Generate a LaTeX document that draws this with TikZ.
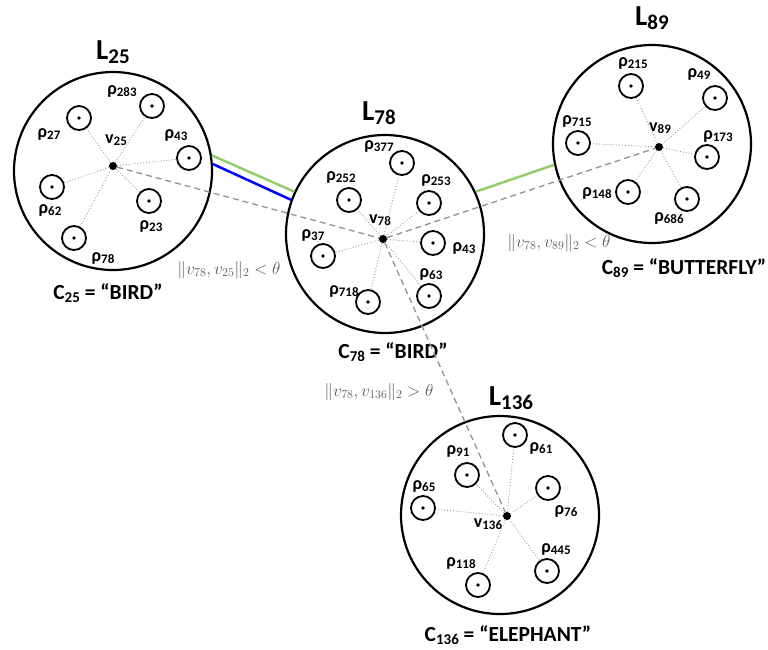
\documentclass[tikz,border=0pt]{standalone}
\usepackage{fontspec}
\setmainfont{Carlito}
\definecolor{lgreen}{RGB}{150,205,110}
\definecolor{tgray}{RGB}{90,90,90}
\newcommand{\sbx}[1]{\raisebox{-0.28ex}{\fontsize{13}{13}\selectfont #1}}
\newcommand{\sbc}[1]{\raisebox{-0.3ex}{\fontsize{15}{15}\selectfont #1}}
\newcommand{\sbt}[1]{\raisebox{-0.3ex}{\fontsize{21}{21}\selectfont #1}}
\begin{document}
\begin{tikzpicture}[x=1pt,y=-1pt,
  big/.style={circle, draw, line width=2.2pt, minimum size=198pt, inner sep=0pt},
  sm/.style={circle, draw, line width=1.8pt, minimum size=24pt, inner sep=0pt,
    path picture={\fill (path picture bounding box.center) circle (1.9pt);}},
  vdot/.style={circle, fill, minimum size=8pt, inner sep=0pt},
  lbl/.style={font=\fontsize{18}{20}\selectfont\bfseries, inner sep=0pt},
  ttl/.style={font=\fontsize{29}{31}\selectfont\bfseries, inner sep=0pt},
  cls/.style={font=\fontsize{21.5}{24}\selectfont\bfseries, inner sep=0pt},
  mth/.style={font=\fontsize{18.5}{20}\selectfont, text=tgray, inner sep=0pt},
  spoke/.style={draw=gray!80, dotted, line width=0.9pt},
  dist/.style={draw=gray!85, dash pattern=on 6pt off 4pt, line width=1.3pt}]
\useasboundingbox (0,0) rectangle (768,649);

% ---------- L25 ----------
\node[big] (L25) at (113,171) {};
\node[ttl] (tL25) at (113,52) {L\sbt{25}};
\node[cls] (c25) at (108,293) {C\sbc{25} = “BIRD”};
\node[vdot] (v25) at (113,166) {};
\node[lbl] (tv25) at (116,140) {v\sbx{25}};
\node[sm] (a283) at (152,106) {};
\node[sm] (a27) at (79,118) {};
\node[sm] (a43) at (189,158) {};
\node[sm] (a62) at (52,187) {};
\node[sm] (a23) at (149,201) {};
\node[sm] (a78) at (74,238) {};
\node[lbl] (ta283) at (122,91) {ρ\sbx{283}};
\node[lbl] (ta27) at (49,134) {ρ\sbx{27}};
\node[lbl] (ta43) at (176,135) {ρ\sbx{43}};
\node[lbl] (ta62) at (50,210) {ρ\sbx{62}};
\node[lbl] (ta23) at (151,226) {ρ\sbx{23}};
\node[lbl] (ta78) at (103,258) {ρ\sbx{78}};
\foreach \n in {a283,a27,a43,a62,a23,a78} \draw[spoke] (v25) -- (\n);

% ---------- L78 ----------
\node[big] (L78) at (385,234) {};
\node[ttl] (tL78) at (379,113) {L\sbt{78}};
\node[cls] (c78) at (393,352) {C\sbc{78} = “BIRD”};
\node[vdot] (v78) at (383,239) {};
\node[lbl] (tv78) at (380,220) {v\sbx{78}};
\node[sm] (b377) at (402,163) {};
\node[sm] (b252) at (349,200) {};
\node[sm] (b253) at (429,203) {};
\node[sm] (b37) at (323,256) {};
\node[sm] (b43) at (433,243) {};
\node[sm] (b63) at (429,296) {};
\node[sm] (b718) at (368,302) {};
\node[lbl] (tb377) at (379,146) {ρ\sbx{377}};
\node[lbl] (tb252) at (341,177) {ρ\sbx{252}};
\node[lbl] (tb253) at (436,180) {ρ\sbx{253}};
\node[lbl] (tb37) at (313,235) {ρ\sbx{37}};
\node[lbl] (tb43) at (464,248) {ρ\sbx{43}};
\node[lbl] (tb63) at (431,274) {ρ\sbx{63}};
\node[lbl] (tb718) at (344,291) {ρ\sbx{718}};
\foreach \n in {b377,b252,b253,b37,b43,b63,b718} \draw[spoke] (v78) -- (\n);

% ---------- L89 ----------
\node[big] (L89) at (652,144) {};
\node[ttl] (tL89) at (652,18) {L\sbt{89}};
\node[cls] (c89) at (684,268) {C\sbc{89} = “BUTTERFLY”};
\node[vdot] (v89) at (659,147) {};
\node[lbl] (tv89) at (660,128) {v\sbx{89}};
\node[sm] (d215) at (631,86) {};
\node[sm] (d49) at (715,98) {};
\node[sm] (d715) at (578,143) {};
\node[sm] (d173) at (707,157) {};
\node[sm] (d148) at (628,192) {};
\node[sm] (d686) at (687,199) {};
\node[lbl] (td215) at (633,63) {ρ\sbx{215}};
\node[lbl] (td49) at (699,74) {ρ\sbx{49}};
\node[lbl] (td715) at (577,121) {ρ\sbx{715}};
\node[lbl] (td173) at (718,136) {ρ\sbx{173}};
\node[lbl] (td148) at (597,193) {ρ\sbx{148}};
\node[lbl] (td686) at (669,218) {ρ\sbx{686}};
\foreach \n in {d215,d49,d715,d173,d148,d686} \draw[spoke] (v89) -- (\n);

% ---------- L136 ----------
\node[big] (L136) at (500,515) {};
\node[ttl] (tL136) at (511,398) {L\sbt{136}};
\node[cls] (c136) at (508,635) {C\sbc{136} = “ELEPHANT”};
\node[vdot] (v136) at (507,516) {};
\node[lbl] (tv136) at (488,524) {v\sbx{136}};
\node[sm] (e61) at (515,435) {};
\node[sm] (e91) at (467,475) {};
\node[sm] (e65) at (423,508) {};
\node[sm] (e76) at (548,488) {};
\node[sm] (e445) at (547,571) {};
\node[sm] (e118) at (478,585) {};
\node[lbl] (te61) at (541,448) {ρ\sbx{61}};
\node[lbl] (te91) at (458,451) {ρ\sbx{91}};
\node[lbl] (te65) at (424,486) {ρ\sbx{65}};
\node[lbl] (te76) at (566,511) {ρ\sbx{76}};
\node[lbl] (te445) at (556,549) {ρ\sbx{445}};
\node[lbl] (te118) at (461,563) {ρ\sbx{118}};
\foreach \n in {e61,e91,e65,e76,e445,e118} \draw[spoke] (v136) -- (\n);

% ---------- distances ----------
\draw[dist] (v25) -- (v78);
\draw[dist] (v78) -- (v89);
\draw[dist] (v78) -- (v136);
\node[mth] (m25) at (229,270) {$\|v_{78}, v_{25}\|_2 < \theta$};
\node[mth] (m89) at (559,243) {$\|v_{78}, v_{89}\|_2 < \theta$};
\node[mth] (m136) at (379,392) {$\|v_{78}, v_{136}\|_2 > \theta$};

% ---------- links ----------
\draw[lgreen, line width=2.5pt] (L25.9) -- (L78.155);
\draw[blue, line width=2.5pt] (L25.4) -- (L78.160);
\draw[lgreen, line width=2.5pt] (L78.25) -- (L89.192);
\end{tikzpicture}
\end{document}
